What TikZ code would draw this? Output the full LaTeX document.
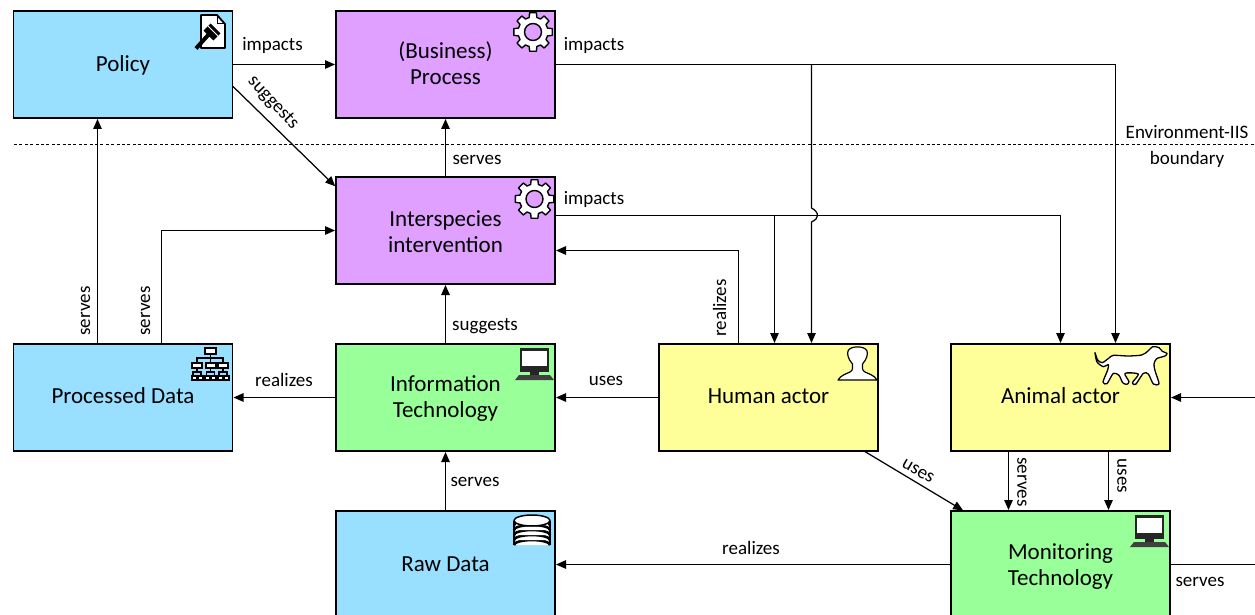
\documentclass[tikz,border=0pt]{standalone}
\usepackage{fontspec}
\setmainfont{Carlito}
\usetikzlibrary{arrows.meta}
\definecolor{cblue}{HTML}{99DFFF}
\definecolor{cpurple}{HTML}{DFA0FF}
\definecolor{cgreen}{HTML}{99FF99}
\definecolor{cyellow}{HTML}{FFFF99}
\tikzset{
  elem/.style={draw=black,line width=1.3pt,minimum width=219pt,minimum height=107pt,inner sep=0pt,outer sep=0pt,align=center,font=\fontsize{23}{26}\selectfont},
  bl/.style={text depth=0pt,text height=2*#1},
  conn/.style={draw=black,line width=1.25pt,-{Triangle[width=8.5pt,length=10pt]},shorten >=1pt},
  lbl/.style={inner sep=0pt,font=\fontsize{19}{22}\selectfont},
  icon/.style={draw=black,line width=1.2pt,fill=white,line join=round},
  gearicon/.pic={
    \path[icon,line width=1.4pt] (9:19.5)
      \foreach \a in {0,45,...,315}{
        -- (\a-10:19.5) -- (\a+10:19.5) -- (\a+15:15) -- (\a+30:15) -- (\a+35:19.5)
      } -- cycle;
    \draw[line width=1.4pt,fill=cpurple] (0,0) circle (8.5);
  },
  moniticon/.pic={
    \fill[black!85] (-35.5,4) rectangle (-6,28);
    \fill[white] (-33,7) rectangle (-8.5,22);
    \fill[black!85] (-25,28) rectangle (-16,31);
    \fill[black!75] (-36,31) -- (-5,31) -- (-1,36) -- (-40,36) -- cycle;
  }
}
\begin{document}
\begin{tikzpicture}[x=1pt,y=-1pt]
\useasboundingbox (0,0) rectangle (1255,615);
\clip (0,0) rectangle (1255,615);
\fill[white] (0,0) rectangle (1255,615);
% boundary
\draw[line width=1.2pt,dash pattern=on 3pt off 2.4pt] (14,144.5) coordinate (bl) -- (1255,144.5) coordinate (br);
% boxes
\node[elem,fill=cblue,bl=7pt] (policy) at (123,64.5) {Policy};
\node[elem,fill=cpurple,bl=20.3pt] (bp) at (445.5,64.5) {(Business)\\Process};
\node[elem,fill=cpurple,bl=21.5pt] (inter) at (445.5,230.5) {Interspecies\\intervention};
\node[elem,fill=cblue,bl=5.5pt] (pd) at (123,397.5) {Processed Data};
\node[elem,fill=cgreen,bl=20pt] (it) at (445.5,397.5) {Information\\Technology};
\node[elem,fill=cyellow,bl=6.2pt] (human) at (768.5,397.5) {Human actor};
\node[elem,fill=cyellow,bl=6.2pt] (animal) at (1060.5,397.5) {Animal actor};
\node[elem,fill=cblue,bl=6.5pt] (rd) at (445.5,564.5) {Raw Data};
\node[elem,fill=cgreen,bl=20.5pt] (mt) at (1060.5,564.5) {Monitoring\\Technology};
\coordinate (offa) at (1255,397.5);
\coordinate (offm) at (1255,564.5);
% connectors
\draw[conn] (policy.east) -- (bp.west);
\draw[conn] (policy.east |- 0,86) -- (inter.west |- 0,187);
\draw[conn] (inter.north) -- (bp.south);
\draw[conn] (bp.east) -| (1115.5,0 |- animal.north);
\draw[conn] (811.5,0 |- bp.east) -- (811.5,208) .. controls (815.5,210) and (817.5,213) .. (817.5,215.5) .. controls (817.5,218) and (815.5,220) .. (811.5,222) -- (811.5,0 |- human.north);
\draw[conn] (inter.east |- 0,215.5) -| (animal.north);
\draw[conn] (774.5,215.5) -- (774.5,0 |- human.north);
\draw[conn] (738.5,0 |- human.north) |- (inter.east |- 0,250.5);
\draw[conn] (97.5,0 |- pd.north) -- (97.5,0 |- policy.south);
\draw[conn] (161.5,0 |- pd.north) |- (inter.west);
\draw[conn] (it.north) -- (inter.south);
\draw[conn] (it.west) -- (pd.east);
\draw[conn] (human.west) -- (it.east);
\draw[conn] (rd.north) -- (it.south);
\draw[conn] (864,0 |- human.south) -- (964,0 |- mt.north);
\draw[conn] (1008.5,0 |- animal.south) -- (1008.5,0 |- mt.north);
\draw[conn] (1108.5,0 |- animal.south) -- (1108.5,0 |- mt.north);
\draw[conn] (mt.west) -- (rd.east);
\draw[conn] (offa) -- (animal.east);
\draw[line width=1.25pt] (mt.east) -- (offm);
% labels
\node[lbl] (l1) at (272.5,45.5) {impacts};
\node[lbl,rotate=-47] (l2) at (273,103) {suggests};
\node[lbl] (l3) at (594,45.5) {impacts};
\node[lbl] (l4) at (477,159.5) {serves};
\node[lbl] (l5) at (594,199.5) {impacts};
\node[lbl,rotate=90] (l6) at (719.5,308) {realizes};
\node[lbl,rotate=90] (l7) at (85.5,311) {serves};
\node[lbl,rotate=90] (l8) at (145.5,311) {serves};
\node[lbl] (l9) at (485,326.5) {suggests};
\node[lbl] (l10) at (284,380) {realizes};
\node[lbl] (l11) at (606,380.5) {uses};
\node[lbl,rotate=-30] (l12) at (918,471) {uses};
\node[lbl,rotate=-90] (l13) at (1022,482) {serves};
\node[lbl,rotate=-90] (l14) at (1122,476) {uses};
\node[lbl] (l15) at (475,482) {serves};
\node[lbl] (l16) at (751,547.5) {realizes};
\node[lbl] (l17) at (1200,581.5) {serves};
\node[lbl,align=center,font=\fontsize{19}{26}\selectfont] (l18) at (1187,146.5) {Environment-IIS\\boundary};
% gears
\pic at (533,32) {gearicon};
\pic at (534.5,199) {gearicon};
% monitors
\pic at (it.north east) {moniticon};
\pic at (mt.north east) {moniticon};
% database
\begin{scope}[line width=1.2pt]
\foreach \y in {545,540,535,530,525}{
  \fill[white] (514,\y-6) rectangle (550,\y);
  \fill[white] (514,\y) arc[start angle=180,end angle=360,x radius=18,y radius=5];
  \draw[line width=2.6pt] (514,\y) arc[start angle=180,end angle=360,x radius=18,y radius=5];
}
\draw[icon,line width=1.5pt] (532,520.5) ellipse [x radius=18,y radius=5.5];
\draw[line width=1.5pt] (514,520.5) -- (514,545) (550,520.5) -- (550,545);
\end{scope}
% network icon
\begin{scope}
\draw[line width=2.2pt,fill=white] (205,348) rectangle (216,354);
\draw[line width=1.6pt] (210.5,354) -- (210.5,358) (197,362) -- (197,358) -- (223,358) -- (223,362) (210.5,358) -- (210.5,362);
\foreach \c in {197,210.5,223}{
  \draw[line width=2pt,fill=white] (\c-5,362.5) rectangle (\c+5,368);
  \draw[line width=1.4pt] (\c,368) -- (\c,372) (\c-4,375) -- (\c-4,372) -- (\c+4,372) -- (\c+4,375);
  \fill[black] (\c-6.5,374.5) rectangle (\c+6.5,380.5);
  \fill[white] (\c-4.5,376.5) rectangle (\c-1.5,378.5);
  \fill[white] (\c+1.5,376.5) rectangle (\c+4.5,378.5);
}
\end{scope}
% policy icon
\draw[line width=1.8pt,fill=white,line join=round] (201,15) -- (217,15) -- (225,24) -- (225,48) -- (201,48) -- cycle;
\draw[line width=1pt] (217,15) -- (217,24) -- (225,24);
\draw[line width=4pt] (196,48.5) -- (210,33);
\fill[black,rotate around={-45:(212,32)}] (205,27) rectangle (219,37);
\draw[line width=.8pt,white] (208,26) -- (218,36);
% human icon
\draw[icon] (838,380) .. controls (841,375) and (846,374) .. (850,372)
  .. controls (853,370.5) and (853,367) .. (852.5,364)
  .. controls (848,359) and (847,354) .. (848,351)
  .. controls (850,345.5) and (865,345.5) .. (867,351)
  .. controls (868,354) and (867,359) .. (862.5,364)
  .. controls (862,367) and (862,370.5) .. (865,372)
  .. controls (869,374) and (874,375) .. (877,380) -- cycle;
% dog icon
\begin{scope}[shift={(1085,340)},x=.3333pt,y=-.3333pt]
\draw[icon,line width=1.3pt] plot[smooth cycle,tension=.45] coordinates {
 (30,38) (38,60) (52,68) (72,54) (85,46) (130,48) (170,45) (188,34) (203,20) (222,23) (232,34) (246,40) (240,48) (215,56) (207,72) (210,92) (222,131) (205,132) (190,102) (175,100) (152,133) (142,128) (160,102) (120,100) (132,125) (125,133) (113,128) (102,106) (85,100) (66,131) (54,126) (68,90) (70,74) (55,80) (36,66)};
\end{scope}
\end{tikzpicture}
\end{document}
